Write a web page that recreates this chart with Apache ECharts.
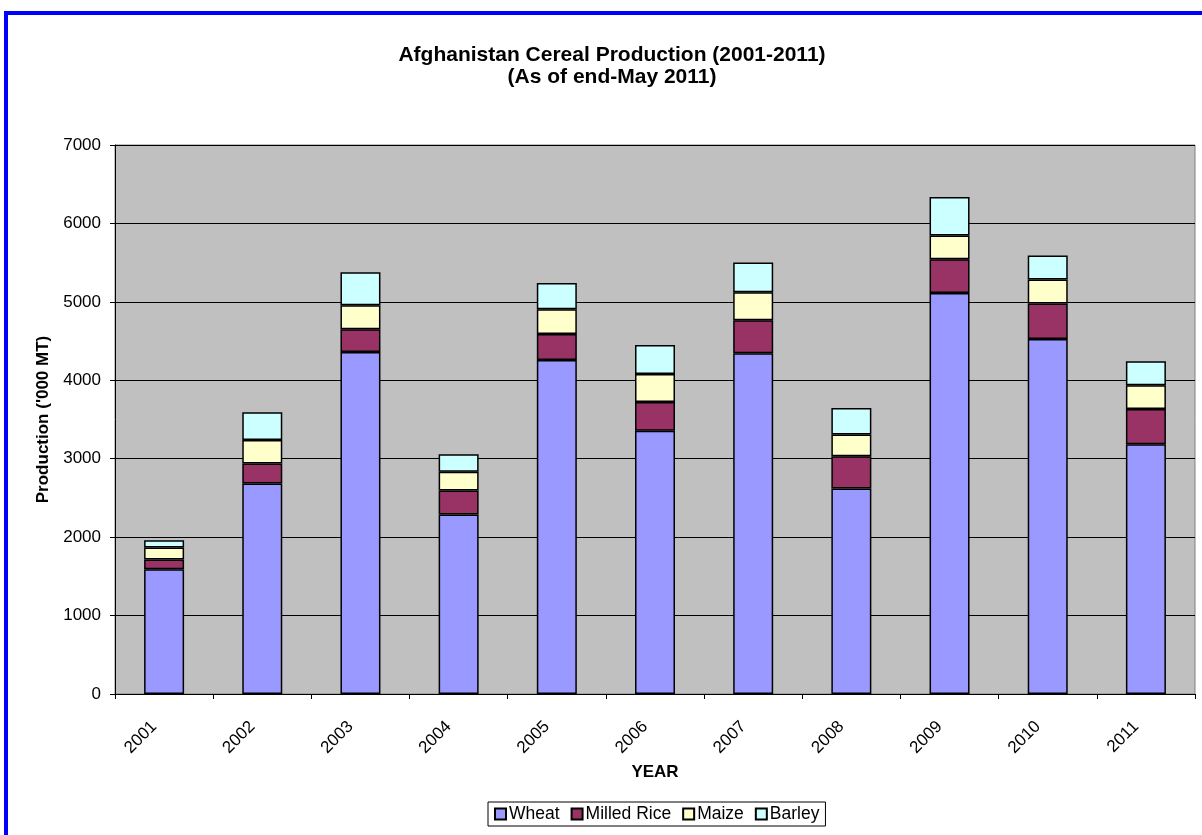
<!DOCTYPE html>
<html>
<head>
<meta charset="utf-8">
<script src="https://cdn.jsdelivr.net/npm/echarts@6/dist/echarts.min.js"></script>
<style>
    html, body { margin: 0; padding: 0; background: #ffffff; }
    #chart { position: absolute; left: 0; top: 0; width: 1202px; height: 835px; }
    #frame {
        position: absolute; left: 4px; top: 11px; width: 1300px; height: 900px;
        border-left: 4px solid #0000ff; border-top: 4px solid #0000ff;
        pointer-events: none;
    }
</style>
</head>
<body>
<div id="chart"></div>
<div id="frame"></div>
<script>
const years = ["2001", "2002", "2003", "2004", "2005", "2006", "2007", "2008", "2009", "2010", "2011"];
const wheat = [1590, 2685, 4361, 2290, 4259, 3357, 4344, 2621, 5114, 4527, 3183];
const milledRice = [125, 255, 290, 306, 332, 366, 422, 409, 430, 452, 451];
const maize = [153, 298, 306, 239, 315, 357, 357, 280, 303, 306, 302];
const barley = [93, 353, 422, 221, 336, 371, 379, 336, 489, 307, 306];
const yTicks = { min: 0, max: 7000, step: 1000 };

const FONT = "'Liberation Sans', Arial, sans-serif";

function barSeries(name, data, color) {
    return {
        name: name,
        type: "bar",
        stack: "total",
        data: data,
        barWidth: 40,
        itemStyle: { color: color, borderColor: "#000000", borderWidth: 1.5 },
        emphasis: { disabled: true }
    };
}

const chart = echarts.init(document.getElementById("chart"), null, { renderer: "canvas" });
chart.setOption({
    animation: false,
    backgroundColor: "#ffffff",
    textStyle: { fontFamily: FONT, color: "#000000" },
    title: {
        text: "Afghanistan Cereal Production (2001-2011)\n(As of end-May 2011)",
        left: 612,
        top: 44,
        padding: 0,
        textAlign: "center",
        textStyle: { fontFamily: FONT, fontSize: 21, fontWeight: "bold", lineHeight: 22, color: "#000000" }
    },
    legend: {
        data: ["Wheat", "Milled Rice", "Maize", "Barley"],
        left: 488,
        top: 802,
        icon: "rect",
        itemWidth: 11,
        itemHeight: 11,
        itemGap: 11,
        padding: [3, 6, 3, 6],
        borderColor: "#000000",
        borderWidth: 1,
        backgroundColor: "#ffffff",
        textStyle: { fontFamily: FONT, fontSize: 17.5, color: "#000000", padding: [0, 0, 0, -2] }
    },
    grid: {
        left: 115,
        right: 7,
        top: 145,
        height: 549,
        show: true,
        backgroundColor: "#c0c0c0",
        borderColor: "#808080",
        borderWidth: 1
    },
    xAxis: {
        type: "category",
        data: years,
        name: "YEAR",
        nameLocation: "middle",
        nameGap: 68,
        nameTextStyle: { fontFamily: FONT, fontSize: 17, fontWeight: "bold", color: "#000000" },
        axisLine: { lineStyle: { color: "#000000", width: 1 } },
        axisTick: { show: true, length: 5, lineStyle: { color: "#000000" } },
        axisLabel: {
            rotate: 45,
            margin: 20,
            padding: [0, 14, 0, 0],
            fontFamily: FONT,
            fontSize: 17,
            color: "#000000"
        }
    },
    yAxis: {
        type: "value",
        min: yTicks.min,
        max: yTicks.max,
        interval: yTicks.step,
        name: "Production ('000 MT)",
        nameLocation: "middle",
        nameGap: 60,
        nameTextStyle: { fontFamily: FONT, fontSize: 17, fontWeight: "bold", color: "#000000" },
        axisLine: { show: true, lineStyle: { color: "#000000", width: 1 } },
        axisTick: { show: true, length: 5, lineStyle: { color: "#000000" } },
        axisLabel: { margin: 14, fontFamily: FONT, fontSize: 17, color: "#000000", formatter: v => String(v) },
        splitLine: { show: true, lineStyle: { color: "#000000", width: 1 } }
    },
    series: [
        barSeries("Wheat", wheat, "#9999ff"),
        barSeries("Milled Rice", milledRice, "#993366"),
        barSeries("Maize", maize, "#ffffcc"),
        barSeries("Barley", barley, "#ccffff")
    ]
});
</script>
</body>
</html>
